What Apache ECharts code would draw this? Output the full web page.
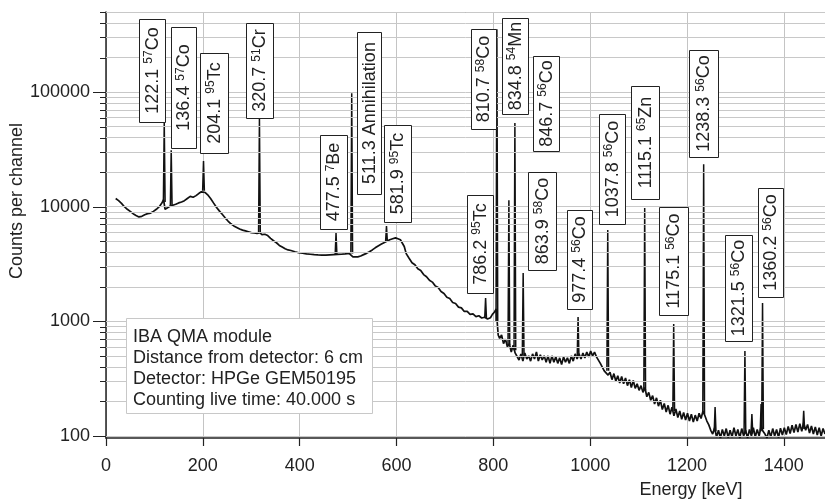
<!DOCTYPE html>
<html>
<head>
<meta charset="utf-8">
<script src="https://cdn.jsdelivr.net/npm/echarts@6/dist/echarts.min.js"></script>
<style>
  html, body { margin: 0; padding: 0; background: #fff; }
  #main { width: 825px; height: 502px; }
</style>
</head>
<body>
<div id="main"></div>
<script>
// continuum of the spectrum (keV, counts per channel)
var energy = [20, 26, 32, 38, 44, 50, 56, 62, 68, 74, 80, 86, 92, 98, 104, 110, 115, 119, 122, 127,
  132, 138, 144, 150, 156, 162, 168, 174, 180, 186, 192, 197, 201, 205, 210, 216, 222, 228, 234, 240,
  246, 252, 258, 264, 270, 276, 282, 288, 294, 300, 306, 312, 318, 322, 328, 334, 340, 346, 352, 358,
  364, 370, 376, 382, 390, 398, 406, 414, 422, 430, 438, 446, 454, 462, 470, 478, 486, 494, 502, 506,
  510, 514, 520, 526, 532, 538, 544, 550, 556, 562, 568, 574, 580, 586, 592, 598, 603, 608, 612, 616,
  620, 626, 632, 638, 644, 650, 656, 662, 668, 674, 680, 686, 692, 698, 704, 710, 716, 722, 728, 734,
  740, 746, 752, 758, 764, 770, 776, 782, 788, 794, 798, 802, 806, 810, 813, 817, 821, 825, 829, 833,
  837, 841, 845, 849, 853, 857, 861, 865, 869, 873, 877, 881, 885, 889, 893, 897, 901, 905, 909, 913,
  917, 921, 925, 929, 933, 937, 941, 945, 949, 953, 957, 961, 965, 969, 973, 977, 981, 985, 989, 993,
  997, 1001, 1005, 1009, 1013, 1017, 1021, 1025, 1029, 1033, 1037, 1041, 1045, 1049, 1053, 1057, 1061, 1065, 1069, 1073,
  1077, 1081, 1085, 1089, 1093, 1097, 1101, 1105, 1109, 1113, 1117, 1121, 1125, 1129, 1133, 1137, 1141, 1145, 1149, 1153,
  1157, 1161, 1165, 1169, 1173, 1177, 1181, 1185, 1189, 1193, 1197, 1201, 1205, 1209, 1213, 1217, 1221, 1225, 1229, 1233,
  1237, 1241, 1245, 1249, 1253, 1257, 1261, 1265, 1269, 1273, 1277, 1281, 1285, 1289, 1293, 1297, 1301, 1305, 1309, 1313,
  1317, 1321, 1325, 1329, 1333, 1337, 1341, 1345, 1349, 1353, 1357, 1361, 1365, 1369, 1373, 1377, 1381, 1385, 1389, 1393,
  1397, 1401, 1405, 1409, 1413, 1417, 1421, 1425, 1429, 1433, 1437, 1441, 1445, 1449, 1453, 1457, 1461, 1465, 1469, 1473,
  1477, 1481, 1485];
var counts = [11800, 11300, 10700, 10000, 9500, 9100, 8700, 8400, 8150, 8250, 8500, 8700, 8800, 9100, 9500, 10000, 10700, 11500, 9500, 9800,
  10100, 10300, 10500, 10800, 11000, 11300, 11800, 12300, 12100, 12500, 13100, 13500, 13900, 13300, 12700, 11800, 10800, 9900, 9200, 8600,
  8000, 7500, 7100, 6800, 6600, 6400, 6250, 6150, 6050, 5950, 5900, 5850, 5950, 5700, 5750, 5600, 5300, 5050, 4850, 4600,
  4450, 4300, 4200, 4150, 4050, 3970, 3930, 3880, 3850, 3820, 3800, 3790, 3780, 3800, 3820, 3840, 3850, 3880, 3920, 3880,
  3650, 3580, 3650, 3720, 3820, 3920, 4050, 4200, 4380, 4550, 4700, 4850, 5000, 5150, 5250, 5350, 5250, 5150, 5000, 4500,
  3900, 3550, 3250, 3120, 2880, 2780, 2560, 2450, 2280, 2200, 2040, 1970, 1820, 1750, 1620, 1580, 1460, 1430, 1330, 1310,
  1220, 1220, 1150, 1160, 1100, 1120, 1070, 1085, 1050, 1075, 1150, 1200, 1280, 760, 710, 760, 640, 700, 600, 640,
  540, 620, 530, 520, 460, 520, 450, 530, 470, 500, 450, 520, 470, 540, 450, 510, 460, 500, 440, 500,
  430, 500, 440, 490, 430, 480, 420, 490, 440, 480, 430, 500, 450, 520, 470, 520, 470, 530, 480, 540,
  490, 550, 500, 540, 490, 510, 430, 420, 370, 380, 340, 360, 310, 350, 300, 335, 290, 330, 285, 320,
  275, 310, 265, 305, 260, 285, 250, 275, 240, 265, 220, 240, 205, 225, 190, 215, 182, 205, 170, 192,
  162, 185, 155, 178, 150, 172, 145, 165, 140, 160, 138, 158, 135, 155, 132, 152, 135, 158, 142, 165,
  150, 135, 125, 112, 104, 118, 98, 112, 96, 114, 100, 116, 97, 112, 98, 118, 100, 114, 96, 116,
  100, 112, 96, 114, 100, 118, 98, 114, 100, 122, 110, 104, 96, 112, 98, 116, 100, 114, 97, 117,
  102, 118, 103, 121, 105, 124, 107, 126, 108, 128, 110, 130, 112, 126, 106, 122, 104, 120, 102, 118,
  100, 116, 104];

// gamma lines: position on the plot, peak height and the continuum under it
var peakEnergy = [120.3, 134.7, 201.4, 316.9, 475.1, 507.5, 579.3, 784, 807.3, 832.1, 844.5, 861.6, 975, 1036.3, 1112.6, 1172.5, 1234.4, 1258, 1319.6, 1334, 1353, 1356, 1441];
var peakTop =    [54700, 31100, 25100, 58900, 5890, 97700, 6770, 1600, 353000, 11400, 53800, 2640, 1090, 6250, 9730, 946, 23500, 179, 551, 155, 190, 1446, 166];
var peakBase =   [11000, 10200, 13800, 5900, 3800, 3900, 5000, 1070, 1000, 620, 560, 500, 490, 370, 250, 165, 155, 110, 105, 105, 110, 115, 115];

// annotation texts: energy, mass number, element
var labelEnergy = ['122.1', '136.4', '204.1', '320.7', '477.5', '511.3', '581.9', '786.2', '810.7', '834.8',
  '846.7', '863.9', '977.4', '1037.8', '1115.1', '1175.1', '1238.3', '1321.5', '1360.2'];
var labelMass = ['57', '57', '95', '51', '7', '', '95', '95', '58', '54', '56', '58', '56', '56', '65', '56', '56', '56', '56'];
var labelElem = ['Co', 'Co', 'Tc', 'Cr', 'Be', 'Annihilation', 'Tc', 'Tc', 'Co', 'Mn', 'Co', 'Co', 'Co', 'Co', 'Zn', 'Co', 'Co', 'Co', 'Co'];

var xTicks = [0, 200, 400, 600, 800, 1000, 1200, 1400];
var yDecades = [100, 1000, 10000, 100000];
var yMinor = [200, 300, 400, 500, 600, 700, 800, 900, 2000, 3000, 4000, 5000, 6000, 7000, 8000, 9000,
  20000, 30000, 40000, 50000, 60000, 70000, 80000, 90000, 200000, 300000, 400000, 500000];

var infoLines = ['IBA QMA module', 'Distance from detector: 6 cm', 'Detector: HPGe GEM50195', 'Counting live time: 40.000 s'];

// pixel boxes of the rotated annotations [left, right, top, bottom]
var labelBox = [[139, 165, 19, 122], [171, 196, 27, 148], [200, 228, 53, 153], [246, 273, 23, 118],
  [320, 347, 135, 229], [357, 381, 32, 194], [384, 411, 125, 222], [467, 493, 195, 293],
  [471, 496, 29, 129], [502, 528, 18, 114], [533, 559, 56, 151], [528, 556, 172, 270],
  [567, 592, 210, 309], [599, 625, 114, 224], [631, 659, 86, 199], [659, 688, 207, 315],
  [689, 718, 50, 157], [725, 752, 235, 341], [758, 783, 188, 297]];

var FONT = '"Liberation Sans", Arial, Helvetica, sans-serif';
var INK = '#222';

var spectrum = energy.map(function (e, i) { return [e, counts[i]]; });
var peaks = peakEnergy.map(function (e, i) { return [e, peakTop[i], peakBase[i]]; });
var yTicks = yDecades.map(function (v) { return [0, v, 1]; })
  .concat(yMinor.map(function (v) { return [0, v, 0]; }));

var graphics = [];
labelBox.forEach(function (b, i) {
  var txt = '{n|' + labelEnergy[i] + ' }' + (labelMass[i] ? '{s|' + labelMass[i] + '}' : '') + '{n|' + labelElem[i] + '}';
  graphics.push({
    type: 'rect', z: 50,
    shape: { x: b[0] + 0.5, y: b[2] + 0.5, width: b[1] - b[0], height: b[3] - b[2] },
    style: { fill: '#fff', stroke: INK, lineWidth: 1 }
  });
  graphics.push({
    type: 'text', z: 51,
    x: (b[0] + b[1]) / 2 + 1, y: (b[2] + b[3]) / 2, rotation: Math.PI / 2,
    style: {
      text: txt, align: 'center', verticalAlign: 'middle', fill: INK,
      rich: {
        n: { fontSize: 18, fontFamily: FONT, lineHeight: 20, fill: INK },
        s: { fontSize: 12, fontFamily: FONT, lineHeight: 12, verticalAlign: 'top', fill: INK }
      }
    }
  });
});
graphics.push({
  type: 'rect', z: 50,
  shape: { x: 126.5, y: 318.5, width: 246, height: 95 },
  style: { fill: '#fff', stroke: '#c8c8c8', lineWidth: 1 }
});
graphics.push({
  type: 'text', z: 51, x: 133, y: 326,
  style: { text: infoLines.join('\n'), fontSize: 18, fontFamily: FONT, lineHeight: 21.2, fill: INK, align: 'left', verticalAlign: 'top' }
});
graphics.push({
  type: 'text', z: 51, x: 17, y: 201, rotation: Math.PI / 2,
  style: { text: 'Counts per channel', fontSize: 18, fontFamily: FONT, fill: INK, align: 'center', verticalAlign: 'middle' }
});
graphics.push({
  type: 'text', z: 51, x: 691, y: 490,
  style: { text: 'Energy [keV]', fontSize: 18, fontFamily: FONT, fill: INK, align: 'center', verticalAlign: 'middle' }
});

var chart = echarts.init(document.getElementById('main'));
chart.setOption({
  animation: false,
  backgroundColor: '#fff',
  grid: { left: 106, right: 0, top: 12, bottom: 64 },
  xAxis: [{
    type: 'value', min: 0, max: 1485, interval: 200,
    axisLine: { lineStyle: { color: INK, width: 1.5 } },
    axisTick: { length: 8, lineStyle: { color: INK, width: 1.2 } },
    axisLabel: {
      fontSize: 18, fontFamily: FONT, color: INK, margin: 19, showMaxLabel: false,
      formatter: function (v) { return xTicks.indexOf(v) >= 0 ? String(v) : ''; }
    },
    splitLine: { show: true, lineStyle: { color: '#c4c4c4', width: 1 } }
  }, {
    type: 'value', position: 'top', min: 0, max: 1485,
    axisLine: { show: true, lineStyle: { color: '#9a9a9a', width: 1.2 } },
    axisTick: { show: false }, axisLabel: { show: false }, splitLine: { show: false }
  }],
  yAxis: {
    type: 'log', logBase: 10, min: 96, max: 500000,
    axisLine: { show: true, lineStyle: { color: INK, width: 1.5 } },
    axisTick: { show: false },
    splitLine: { show: false },
    axisLabel: {
      fontSize: 18, fontFamily: FONT, color: INK, margin: 16,
      formatter: function (v) {
        var p = Math.log(v) / Math.LN10;
        if (Math.abs(p - Math.round(p)) < 1e-6 && yDecades.indexOf(Math.round(Math.pow(10, Math.round(p)))) >= 0) {
          return String(Math.round(Math.pow(10, Math.round(p))));
        }
        return '';
      }
    }
  },
  graphic: { elements: graphics },
  series: [{
    type: 'custom', name: 'yticks', z: 1, clip: false, silent: true,
    data: yTicks,
    encode: { x: 0, y: 1 },
    renderItem: function (params, api) {
      var p = api.coord([0, api.value(1)]);
      var len = api.value(2) ? 13 : 6;
      return {
        type: 'line',
        shape: { x1: p[0] - len, y1: Math.round(p[1]) + 0.5, x2: p[0], y2: Math.round(p[1]) + 0.5 },
        style: { stroke: INK, lineWidth: 1 }
      };
    },
    markLine: {
      silent: true, symbol: 'none', label: { show: false },
      lineStyle: { color: '#c8c8c8', type: 'solid', width: 1 },
      data: yTicks.map(function (t) { return { yAxis: t[1] }; })
    }
  }, {
    type: 'line', name: 'spectrum', z: 3,
    data: spectrum, showSymbol: false, symbol: 'none',
    lineStyle: { color: '#111', width: 1.7 }
  }, {
    type: 'custom', name: 'peaks', z: 3, silent: true,
    data: peaks,
    encode: { x: 0, y: 1 },
    renderItem: function (params, api) {
      var e = api.value(0), top = api.value(1), base = api.value(2);
      return {
        type: 'polyline',
        shape: { points: [api.coord([e - 1.8, base]), api.coord([e, top]), api.coord([e + 1.8, base])] },
        style: { stroke: '#111', lineWidth: 1.5, fill: 'none' }
      };
    }
  }]
});
</script>
</body>
</html>
